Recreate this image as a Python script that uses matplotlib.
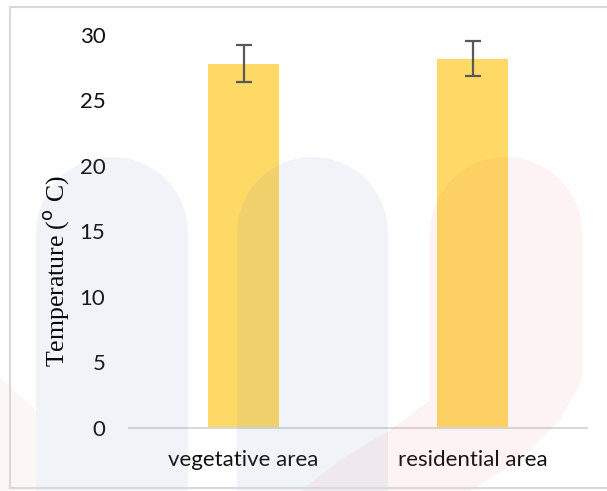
import numpy as np
import matplotlib
matplotlib.use("Agg")
import matplotlib.pyplot as plt
from matplotlib.patches import Polygon
from matplotlib.lines import Line2D

# mean temperature per site with standard deviation
areas = ["vegetative area", "residential area"]
mean_temp = [27.8, 28.2]
sd_temp = [1.4, 1.35]

W, H = 607, 491
fig = plt.figure(figsize=(W / 100, H / 100), dpi=100)
ax = fig.add_axes([129 / W, 1 - 428 / H, (587 - 129) / W, (428 - 35) / H])

x = np.arange(len(areas))
ax.bar(x, mean_temp, width=0.31, color="#FFD966", zorder=2)
ax.errorbar(x, mean_temp, yerr=sd_temp, fmt="none", ecolor="#595959",
            elinewidth=1.6, capsize=6, capthick=1.6, zorder=3)

ax.set_xlim(-0.5, len(areas) - 0.5)
ax.set_ylim(0, 30)
ax.set_yticks(range(0, 31, 5))
ax.set_xticks(x)
ax.set_xticklabels(areas)
for lab in ax.get_xticklabels() + ax.get_yticklabels():
    lab.set_fontfamily("Lato")
    lab.set_fontsize(16)
    lab.set_color("#111111")
ax.tick_params(axis="both", length=0)
ax.tick_params(axis="y", pad=17)
ax.tick_params(axis="x", pad=16)
for side in ["top", "right", "left"]:
    ax.spines[side].set_visible(False)
ax.spines["bottom"].set_color("#D9D9D9")
ax.spines["bottom"].set_linewidth(1.5)
ax.patch.set_alpha(0)

plt.rcParams["mathtext.fontset"] = "custom"
plt.rcParams["mathtext.rm"] = "Liberation Serif"
ax.set_ylabel(r"Temperature ($^{\rm o}$ C)", fontfamily="Liberation Serif",
              fontsize=18.5)
ax.yaxis.set_label_coords(-(129 - 71) / (587 - 129), (428 - 271) / (428 - 35))

# faint logo overlay in pixel coordinates
ov = fig.add_axes([0, 0, 1, 1], zorder=10)
ov.set_xlim(0, W)
ov.set_ylim(H, 0)
ov.axis("off")
ov.patch.set_alpha(0)


def arch(x0, x1, top, bottom):
    r = (x1 - x0) / 2
    cx, cy = x0 + r, top + r
    t = np.linspace(np.pi, 2 * np.pi, 40)
    pts = [(x0, bottom)] + list(zip(cx + r * np.cos(t), cy + r * np.sin(t))) + [(x1, bottom)]
    return pts


blue = (85 / 255, 135 / 255, 175 / 255)
pink = (235 / 255, 85 / 255, 85 / 255)
for x0, x1 in [(36, 188), (237, 388)]:
    ov.add_patch(Polygon(arch(x0, x1, 157, 491), closed=True, facecolor=blue,
                         edgecolor="none", alpha=0.085))

pink_top = arch(430, 582, 157, 360)[1:-1]
pink_pts = ([(430, 400)] + pink_top + [(582, 380), (560, 420), (520, 460), (470, 491),
                                      (300, 491), (340, 460), (390, 430)])
ov.add_patch(Polygon(pink_pts, closed=True, facecolor=pink, edgecolor="none", alpha=0.065))
ov.add_patch(Polygon([(0, 377), (36, 410), (36, 491), (0, 491)], closed=True,
                     facecolor=pink, edgecolor="none", alpha=0.05))

# outer frame
frame = dict(color="#D9D9D9", linewidth=1.5)
ov.add_line(Line2D([10, W], [6.5, 6.5], **frame))
ov.add_line(Line2D([10, 10], [6.5, 488], **frame))
ov.add_line(Line2D([10, W], [488, 488], **frame))

fig.savefig("out.png", dpi=100)
